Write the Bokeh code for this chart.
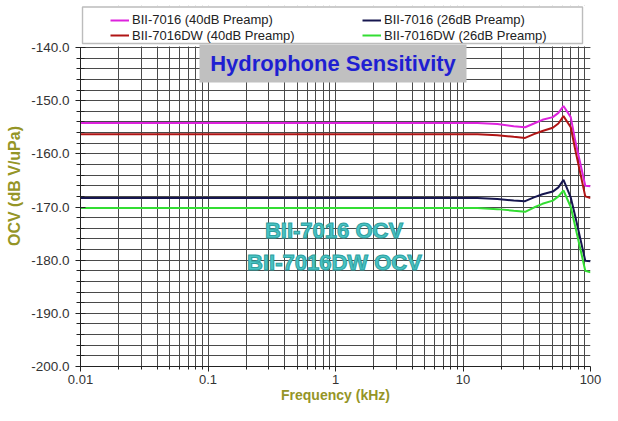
from bokeh.plotting import figure
from bokeh.models import (Legend, LegendItem, Label, BoxAnnotation, FixedTicker,
                          SingleIntervalTicker, PrintfTickFormatter, Range1d)
from bokeh.embed import file_html
from bokeh.resources import INLINE

# ---- data ----
freq_khz = [0.01, 13, 18.6, 25, 30.7, 36, 42, 50.6, 56, 61.4, 70, 76, 91, 100]
bii_40 = [-154.2, -154.2, -154.4, -154.8, -155.0, -154.3, -153.6, -153.1, -152.3, -151.0, -153.1, -157.6, -166.0, -166.1]
biidw_40 = [-156.3, -156.3, -156.5, -156.8, -157.0, -156.3, -155.7, -155.1, -154.3, -152.9, -155.0, -159.3, -168.0, -168.3]
bii_26 = [-168.3, -168.3, -168.5, -168.8, -168.9, -168.2, -167.6, -167.1, -166.3, -164.9, -168.2, -171.8, -180.1, -180.2]
biidw_26 = [-170.2, -170.2, -170.4, -170.7, -170.9, -170.1, -169.4, -168.8, -168.0, -166.9, -170.0, -173.7, -182.0, -182.3]

series_labels = ["BII-7016 (40dB Preamp)", "BII-7016DW (40dB Preamp)",
                 "BII-7016 (26dB Preamp)", "BII-7016DW (26dB Preamp)"]
series_colors = ["#dd22dd", "#b01414", "#16164f", "#33dd33"]

x_ticks = [0.01, 0.1, 1, 10, 100]
x_tick_labels = ["0.01", "0.1", "1", "10", "100"]
y_min, y_max = -200, -140

title_text = "Hydrophone Sensitivity"
note_texts = ["BII-7016 OCV", "BII-7016DW OCV"]

FONT = "Liberation Sans"
OLIVE = "#959526"
GRID = "#4a4a4a"

# layout (pixels from the top of the canvas)
TOP_PX = 5
BOTTOM_PX = 366
M140_PX = 47
FRAME_H = BOTTOM_PX - TOP_PX
PLOT_H = BOTTOM_PX - M140_PX
y_top = y_max + (FRAME_H - PLOT_H) * (y_max - y_min) / PLOT_H

def sy(px):
    return BOTTOM_PX - px

p = figure(width=602, height=405, x_axis_type="log",
           x_range=Range1d(0.01, 100), y_range=Range1d(y_min, y_top),
           output_backend="svg", toolbar_location=None,
           min_border_left=80, min_border_right=12, min_border_top=TOP_PX,
           min_border_bottom=405 - BOTTOM_PX)
p.background_fill_color = "white"
p.border_fill_color = "white"
p.outline_line_color = None

# axes
x_minor = [m * 10.0 ** e for e in range(-2, 2) for m in range(2, 10)]
p.xaxis.ticker = FixedTicker(ticks=x_ticks, minor_ticks=x_minor)
p.xaxis.major_label_overrides = {t: s for t, s in zip(x_ticks, x_tick_labels)}
p.yaxis.ticker = SingleIntervalTicker(interval=10, num_minor_ticks=5)
p.yaxis.formatter = PrintfTickFormatter(format="%.1f")
p.yaxis.bounds = (y_min, y_max)

for ax in (p.xaxis[0], p.yaxis[0]):
    ax.axis_line_color = "#222222"
    ax.major_tick_line_color = "#222222"
    ax.minor_tick_line_color = "#222222"
    ax.major_label_text_font = FONT
    ax.major_label_text_color = "#333333"
    ax.axis_label_text_font = FONT
    ax.axis_label_text_font_style = "bold"
    ax.axis_label_text_color = OLIVE

p.xaxis.major_label_text_font_size = "13px"
p.xaxis.major_tick_out = 5
p.xaxis.major_tick_in = 0
p.xaxis.minor_tick_out = 3
p.xaxis.minor_tick_in = 0
p.xaxis.major_label_standoff = 3
p.xaxis.axis_label = "Frequency (kHz)"
p.xaxis.axis_label_text_font_size = "14px"
p.xaxis.axis_label_standoff = 0

p.yaxis.major_label_text_font_size = "13.5px"
p.yaxis.major_tick_out = 5
p.yaxis.major_tick_in = 5
p.yaxis.minor_tick_out = 4
p.yaxis.minor_tick_in = 4
p.yaxis.major_label_standoff = 6
p.yaxis.axis_label = "OCV (dB V/uPa)"
p.yaxis.axis_label_text_font_size = "16px"
p.yaxis.axis_label_standoff = 5

for g in (p.xgrid[0], p.ygrid[0]):
    g.grid_line_color = GRID
    g.grid_line_width = 1
    g.minor_grid_line_color = GRID
    g.minor_grid_line_width = 1
p.ygrid[0].bounds = (y_min, y_max)

# series
renderers = []
for vals, col in zip([bii_40, biidw_40, bii_26, biidw_26], series_colors):
    r = p.line(freq_khz, vals, line_color=col, line_width=2)
    renderers.append(r)

def sbox(**kw):
    return BoxAnnotation(left_units="screen", right_units="screen",
                         top_units="screen", bottom_units="screen", **kw)

# white area above the -140 line (hides vertical grid lines there)
p.add_layout(sbox(left=-2, right=520, top=FRAME_H + 2, bottom=PLOT_H + 1,
                  fill_color="white", fill_alpha=1.0, line_color=None))

# legend box
p.add_layout(sbox(left=2, right=502, top=sy(6.5), bottom=sy(43),
                  fill_color="white", fill_alpha=1.0,
                  line_color="#222222", line_width=1.4))

leg_pos = [(30, sy(19) - 8), (30, sy(34.5) - 8), (282, sy(19) - 8), (282, sy(34.5) - 8)]
for r, lab, (lx, ly) in zip(renderers, series_labels, leg_pos):
    lg = Legend(items=[LegendItem(label=lab, renderers=[r])], location=(lx, ly),
                padding=0, margin=0, border_line_alpha=0, background_fill_alpha=0,
                label_text_font=FONT, label_text_font_size="13px",
                label_text_color="#222222", label_standoff=3,
                glyph_width=19, glyph_height=12, label_height=12, spacing=0)
    p.add_layout(lg, "center")

# title with gray box
p.add_layout(sbox(left=119, right=386, top=sy(44), bottom=sy(82),
                  fill_color="#c0c0c0", fill_alpha=1.0, line_color=None))
p.add_layout(Label(x=252.5, y=sy(63), x_units="screen", y_units="screen", text=title_text,
                   text_align="center", text_baseline="middle", text_font=FONT,
                   text_font_style="bold", text_font_size="22px", text_color="#1f1fd2"))

# overlay notes
for txt, (nx, npx) in zip(note_texts, [(253.5, 230.0), (254, 262.0)]):
    p.add_layout(Label(x=nx, y=sy(npx), x_units="screen", y_units="screen", text=txt,
                       text_align="center", text_baseline="middle", text_font=FONT,
                       text_font_style="bold", text_font_size="22px",
                       text_color="#48c4c4", text_outline_color="#2f9f9f"))

open("out.html", "w").write(file_html(p, INLINE))
